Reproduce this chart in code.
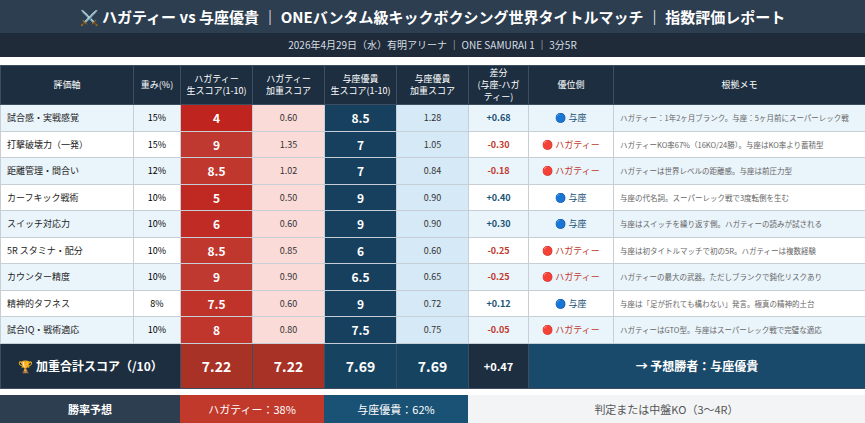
<!DOCTYPE html>
<html><head><meta charset="utf-8">
<script src="https://cdn.jsdelivr.net/npm/chart.js@4"></script>
<style>
body{margin:0;width:865px;height:423px;overflow:hidden;font-family:"Noto Sans CJK JP","Noto Sans",sans-serif;background:#fff}
.title{height:33px;background:#2c3e50;color:#fff;font-size:15px;font-weight:bold;text-align:center;line-height:33px}
.sub{height:24px;background:#1f2b38;color:#d5dde5;font-size:10px;text-align:center;line-height:24px}
table{border-collapse:collapse;table-layout:fixed;width:865px;margin-top:8px}
td,th{border:1px solid #c8ced6;font-size:9px;text-align:center;padding:0;overflow:hidden;white-space:nowrap}
th{background:#1c2e40;color:#fff;font-weight:normal;height:38px;line-height:12px;white-space:normal;border-color:#3c4e60}
tr.r td{height:25.5px}
td.memo{text-align:left;padding-left:6px;padding-right:4px;color:#666;font-size:7.5px;white-space:normal;line-height:11px}
td.axis{text-align:left;padding-left:6px;color:#222}
.hr{color:#fff;font-weight:bold;font-size:12px}
.yr{color:#fff;font-weight:bold;font-size:12px;background:#17405e}
.hw{background:#fadbd8;color:#333}
.yw{background:#d6e9f6;color:#333}
tr.tot td{height:44px;background:#1c2e40;color:#fff;font-weight:bold;font-size:14px;border-color:#3c4e60}
.bot{display:flex;height:28px;margin-top:6px;font-size:11px;line-height:28px;text-align:center}
</style></head><body>
<div class="title">⚔️ ハガティー vs 与座優貴 ｜ ONEバンタム級キックボクシング世界タイトルマッチ ｜ 指数評価レポート</div>
<div class="sub">2026年4月29日（水）有明アリーナ ｜ ONE SAMURAI 1 ｜ 3分5R</div>
<table id="t"><colgroup>
<col style="width:133px"><col style="width:47px"><col style="width:72px"><col style="width:72px"><col style="width:72px"><col style="width:72px"><col style="width:60px"><col style="width:85px"><col style="width:252px">
</colgroup></table>
<div class="bot">
<div style="width:180px;background:#2c3e50;color:#fff;font-weight:bold">勝率予想</div>
<div style="width:144px;background:#c0392b;color:#fff">ハガティー：38%</div>
<div style="width:144px;background:#1a5276;color:#fff">与座優貴：62%</div>
<div style="flex:1;background:#f2f4f5;color:#555">判定または中盤KO（3〜4R）</div>
</div>
<script>
const headers = ["評価軸","重み(%)","ハガティー<br>生スコア(1-10)","ハガティー<br>加重スコア","与座優貴<br>生スコア(1-10)","与座優貴<br>加重スコア","差分<br>(与座-ハガ<br>ティー)","優位側","根拠メモ"]
const categories = ["試合感・実戦感覚","打撃破壊力（一発）","距離管理・間合い","カーフキック戦術","スイッチ対応力","5R スタミナ・配分","カウンター精度","精神的タフネス","試合IQ・戦術適応"]
const weights = [15,15,12,10,10,10,10,8,10]
const hagRaw = [4,9,8.5,5,6,8.5,9,7.5,8]
const hagWeighted = [0.60,1.35,1.02,0.50,0.60,0.85,0.90,0.60,0.80]
const yozaRaw = [8.5,7,7,9,9,6,6.5,9,7.5]
const yozaWeighted = [1.28,1.05,0.84,0.90,0.90,0.60,0.65,0.72,0.75]
const diffs = [0.68,-0.30,-0.18,0.40,0.30,-0.25,-0.25,0.12,-0.05]
const memos = ["ハガティー：1年2ヶ月ブランク。与座：5ヶ月前にスーパーレック戦","ハガティーKO率67%（16KO/24勝）。与座はKO率より蓄積型","ハガティーは世界レベルの距離感。与座は前圧力型","与座の代名詞。スーパーレック戦で3度転倒を生む","与座はスイッチを繰り返す側。ハガティーの読みが試される","与座は初タイトルマッチで初の5R。ハガティーは複数経験","ハガティーの最大の武器。ただしブランクで鈍化リスクあり","与座は「足が折れても構わない」発言。極真の精神的土台","ハガティーはGTO型。与座はスーパーレック戦で完璧な適応"]
const totals = [7.22,7.22,7.69,7.69]
const totalDiff = 0.47
const t = document.getElementById('t')
let h = '<tr>' + headers.map(x => `<th>${x}</th>`).join('') + '</tr>'
const fmt = v => v.toFixed(2)
categories.forEach((c, i) => {
  const d = diffs[i]
  const bg = i % 2 ? '#fff' : '#eaf4fb'
  const shade = Math.round(120 + (hagRaw[i]-4)*14)
  const side = d > 0 ? '🔵 <span style="color:#1a5276">与座</span>' : '🔴 <span style="color:#c0392b">ハガティー</span>'
  h += `<tr class="r" style="background:${bg}"><td class="axis">${c}</td><td>${weights[i]}%</td>`
    + `<td class="hr" style="background:rgb(${Math.min(shade+72,192)},${Math.round(shade*0.3)},${Math.round(shade*0.25)})">${hagRaw[i]}</td>`
    + `<td class="hw">${fmt(hagWeighted[i])}</td><td class="yr">${yozaRaw[i]}</td><td class="yw">${fmt(yozaWeighted[i])}</td>`
    + `<td style="font-weight:bold;color:${d>0?'#1a5276':'#c0392b'}">${d>0?'+':''}${fmt(d)}</td>`
    + `<td>${side}</td><td class="memo">${memos[i]}</td></tr>`
})
h += `<tr class="tot"><td colspan="2" style="font-size:12px">🏆 加重合計スコア（/10）</td>`
  + `<td style="background:#a93226">${fmt(totals[0])}</td><td style="background:#a93226">${fmt(totals[1])}</td>`
  + `<td style="background:#154360">${fmt(totals[2])}</td><td style="background:#154360">${fmt(totals[3])}</td>`
  + `<td style="font-size:11px">+${fmt(totalDiff)}</td><td colspan="2" style="font-size:12px;background:#1a4a6b">→ 予想勝者：与座優貴</td></tr>`
t.innerHTML += h
</script>
</body></html>
